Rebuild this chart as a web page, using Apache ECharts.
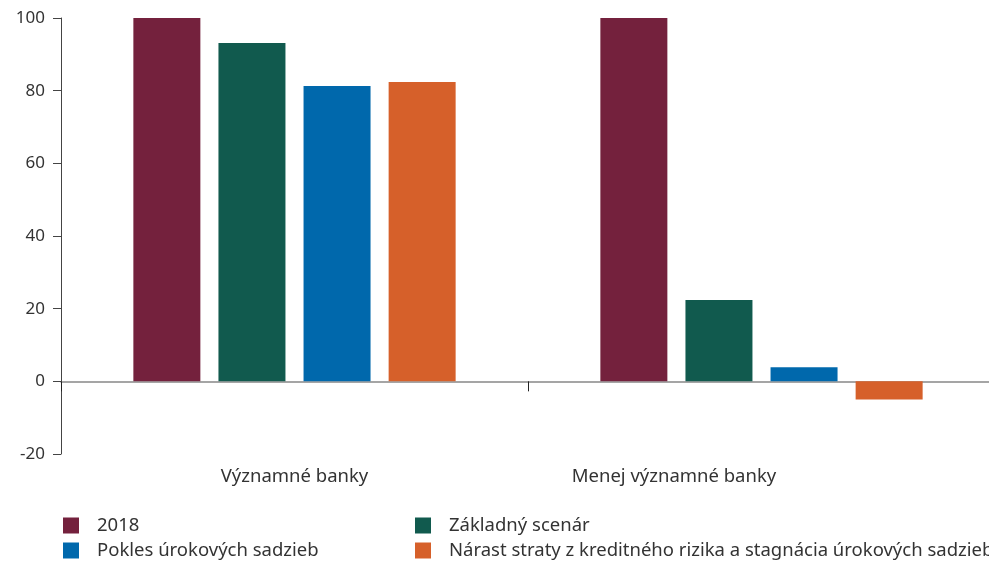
<!DOCTYPE html>
<html>
<head>
<meta charset="utf-8">
<script src="https://cdn.jsdelivr.net/npm/echarts@6/dist/echarts.min.js"></script>
<style>
  html, body { margin: 0; padding: 0; background: #fff; }
  #chart { width: 989px; height: 562px; }
</style>
</head>
<body>
<div id="chart"></div>
<script>
var categories = ['Významné banky', 'Menej významné banky'];
var seriesNames = ['2018', 'Základný scenár', 'Pokles úrokových sadzieb', 'Nárast straty z kreditného rizika a stagnácia úrokových sadzieb'];
var val2018 = [100, 100];
var valZaklad = [93.1, 22.4];
var valPokles = [81.3, 3.9];
var valNarast = [82.4, -5.0];
var colors = ['#74213d', '#115a4e', '#0068ac', '#d6602a'];

var chart = echarts.init(document.getElementById('chart'));
var font = 'Noto Sans';

function bar(name, data, color) {
  return {
    name: name,
    type: 'bar',
    data: data,
    barWidth: 67,
    barGap: '27%',
    itemStyle: { color: color }
  };
}

// one legend per entry, laid out as two columns
function legendItem(name, left, top) {
  return {
    left: left, top: top,
    icon: 'rect', itemWidth: 16, itemHeight: 16,
    textStyle: { fontSize: 18.5, color: '#333', fontFamily: font, padding: [0, 0, 0, 13] },
    data: [name]
  };
}

chart.setOption({
  textStyle: { fontFamily: font },
  grid: { left: 61, width: 934, top: 18, height: 436, outerBoundsMode: 'none', containLabel: false },
  legend: [
    legendItem(seriesNames[0], 58, 511),
    legendItem(seriesNames[2], 58, 536),
    legendItem(seriesNames[1], 410, 511),
    legendItem(seriesNames[3], 410, 536)
  ],
  xAxis: {
    type: 'category',
    data: categories,
    axisLine: { onZero: true, lineStyle: { color: '#888', width: 1.5 } },
    axisTick: { show: true, length: 10, lineStyle: { color: '#222' } },
    axisLabel: {
      margin: 13,
      color: '#333',
      formatter: function (v, i) {
        return i === 1 ? '{b|' + v + '}' : '{a|' + v + '}';
      },
      rich: {
        a: { fontSize: 18.5, color: '#333', fontFamily: font },
        b: { fontSize: 18.5, color: '#333', fontFamily: font, padding: [0, 175, 0, 0] }
      }
    }
  },
  yAxis: {
    type: 'value',
    min: -20, max: 100, interval: 20,
    splitLine: { show: false },
    axisLine: { show: true, lineStyle: { color: '#444' } },
    axisTick: { show: true, length: 8, lineStyle: { color: '#444' } },
    axisLabel: { fontSize: 17, color: '#333', margin: 16 }
  },
  series: [
    bar(seriesNames[0], val2018, colors[0]),
    bar(seriesNames[1], valZaklad, colors[1]),
    bar(seriesNames[2], valPokles, colors[2]),
    bar(seriesNames[3], valNarast, colors[3])
  ]
});
</script>
</body>
</html>
